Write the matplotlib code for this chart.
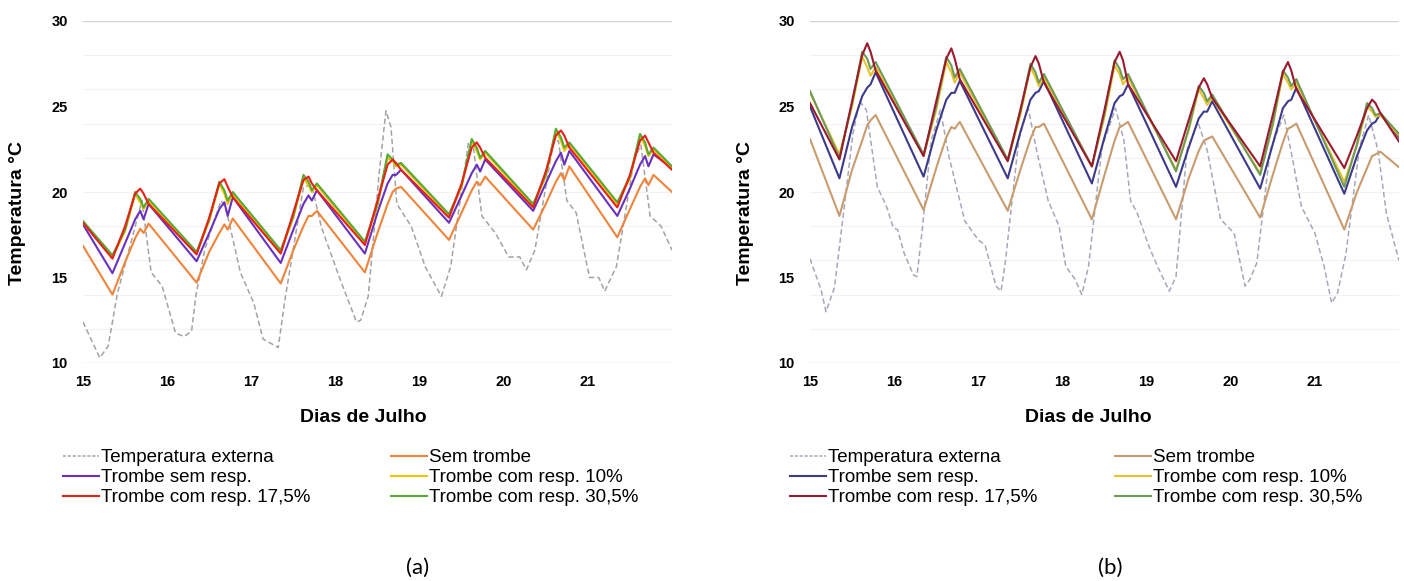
"""Indoor temperature with/without Trombe wall, 15-21 July (two scenarios).

Writes out.png
"""
import matplotlib
matplotlib.use("Agg")
import matplotlib.pyplot as plt
from matplotlib.lines import Line2D

plt.rcParams.update({
    "font.family": ["Liberation Sans", "DejaVu Sans"],
    "axes.spines.top": False,
    "axes.spines.right": False,
    "axes.spines.left": False,
    "axes.spines.bottom": False,
})

W, H = 1404, 581

# ------------------------------------------------------------
# data
# ------------------------------------------------------------
DAYS = [15, 16, 17, 18, 19, 20, 21]
# sample phases within each day: min, mid-rise, early peak, late peak, dip, shoulder
PHASES = [0.35, 0.50, 0.62, 0.68, 0.72, 0.78]
t_in = [15.0] + [d + p for d in DAYS for p in PHASES] + [22.0]

# --- panel (a)
sem_trombe_a = [16.85,
                14.0, 15.9, 17.3, 17.85, 17.6, 18.15,
                14.7, 16.5, 17.6, 18.1, 17.8, 18.45,
                14.65, 16.6, 18.0, 18.6, 18.6, 18.9,
                15.3, 17.6, 19.3, 20.0, 20.2, 20.3,
                17.2, 18.8, 20.1, 20.6, 20.4, 20.9,
                17.8, 19.3, 20.6, 21.1, 20.7, 21.5,
                17.35, 19.0, 20.3, 20.8, 20.4, 21.0,
                20.0]
sem_resp_a = [18.1,
              15.25, 17.0, 18.4, 18.9, 18.4, 19.3,
              15.95, 17.6, 19.0, 19.4, 18.6, 19.7,
              15.85, 17.8, 19.3, 19.8, 19.5, 20.1,
              16.4, 18.8, 20.5, 21.0, 21.0, 21.3,
              18.2, 19.8, 21.1, 21.6, 21.2, 21.9,
              18.9, 20.5, 21.8, 22.3, 21.6, 22.4,
              18.6, 20.2, 21.6, 22.1, 21.5, 22.2,
              21.4]
resp10_a = [18.2,
            16.2, 17.7, 19.9, 19.4, 19.0, 19.5,
            16.4, 18.3, 20.5, 19.9, 19.3, 19.9,
            16.5, 18.5, 20.8, 20.4, 20.0, 20.4,
            17.0, 19.2, 22.0, 21.8, 21.5, 21.6,
            18.6, 20.3, 23.0, 22.4, 21.9, 22.3,
            19.2, 20.9, 23.6, 23.0, 22.4, 22.8,
            19.3, 20.8, 23.3, 22.7, 22.1, 22.5,
            21.4]
resp175_a = [18.2,
             16.1, 18.0, 19.9, 20.2, 19.9, 19.3,
             16.35, 18.5, 20.5, 20.75, 20.3, 19.7,
             16.4, 18.8, 20.7, 20.9, 20.5, 20.1,
             16.9, 19.5, 21.6, 21.9, 21.7, 21.3,
             18.5, 20.5, 22.6, 22.9, 22.6, 22.0,
             19.1, 21.2, 23.3, 23.6, 23.3, 22.6,
             19.1, 21.0, 23.0, 23.3, 22.9, 22.3,
             21.3]
resp305_a = [18.3,
             16.3, 17.8, 20.0, 19.6, 19.1, 19.6,
             16.5, 18.4, 20.6, 20.1, 19.5, 20.0,
             16.6, 18.6, 21.0, 20.6, 20.1, 20.5,
             17.1, 19.3, 22.2, 21.9, 21.6, 21.7,
             18.7, 20.4, 23.1, 22.6, 22.0, 22.4,
             19.3, 21.0, 23.7, 23.2, 22.6, 22.9,
             19.4, 20.9, 23.4, 22.9, 22.2, 22.6,
             21.5]
t_ext_a = [15.0, 15.2, 15.3, 15.41, 15.6, 15.7, 15.81, 15.94,
           16.1, 16.2, 16.29, 16.34, 16.45, 16.64, 16.7, 16.87,
           17.03, 17.14, 17.25, 17.32, 17.4, 17.62, 17.72, 17.83,
           18.04, 18.25, 18.3, 18.39, 18.52, 18.6, 18.66, 18.73, 18.9,
           19.07, 19.26, 19.37, 19.58, 19.63, 19.74, 19.9,
           20.06, 20.19, 20.27, 20.37, 20.59, 20.65, 20.75, 20.86,
           21.02, 21.13, 21.2, 21.34, 21.55, 21.63, 21.74, 21.87, 22.0]
externa_a = [12.4, 10.3, 11.0, 14.1, 17.6, 19.5, 15.3, 14.5,
             11.75, 11.55, 11.85, 13.9, 16.7, 19.5, 19.0, 15.3,
             13.5, 11.4, 11.1, 10.9, 13.7, 20.3, 20.4, 18.0,
             15.1, 12.4, 12.5, 13.9, 21.1, 24.75, 23.8, 19.3, 18.0,
             15.6, 13.9, 15.65, 22.85, 23.0, 18.6, 17.6,
             16.2, 16.2, 15.45, 16.6, 22.85, 23.0, 19.5, 18.8,
             15.0, 15.0, 14.2, 15.65, 21.9, 22.75, 18.6, 18.0, 16.6]

# --- panel (b)
sem_trombe_b = [23.1,
                18.6, 21.3, 23.0, 23.9, 24.2, 24.5,
                18.95, 21.4, 23.2, 23.8, 23.7, 24.1,
                18.9, 21.3, 23.1, 23.8, 23.8, 24.0,
                18.4, 21.0, 23.0, 23.8, 23.9, 24.1,
                18.4, 20.8, 22.4, 23.0, 23.1, 23.25,
                18.5, 21.0, 22.9, 23.7, 23.8, 24.0,
                17.8, 20.0, 21.4, 22.1, 22.2, 22.35,
                21.45]
sem_resp_b = [25.0,
              20.8, 23.8, 25.6, 26.1, 26.3, 27.0,
              20.9, 23.6, 25.4, 25.8, 25.8, 26.5,
              20.8, 23.5, 25.4, 25.8, 25.9, 26.5,
              20.5, 23.2, 25.2, 25.6, 25.7, 26.3,
              20.3, 22.6, 24.3, 24.7, 24.7, 25.3,
              20.2, 22.8, 24.9, 25.3, 25.4, 26.1,
              19.9, 22.1, 23.6, 24.0, 24.1, 24.6,
              23.2]
resp10_b = [25.8,
            22.2, 25.0, 27.9, 27.3, 26.8, 27.3,
            22.1, 24.8, 27.6, 27.0, 26.4, 27.0,
            21.8, 24.5, 27.3, 26.7, 26.2, 26.7,
            21.5, 24.4, 27.4, 26.9, 26.3, 26.7,
            21.3, 23.6, 26.0, 25.5, 25.1, 25.5,
            21.1, 23.9, 26.9, 26.4, 26.0, 26.4,
            20.6, 22.7, 25.0, 24.7, 24.4, 24.5,
            23.3]
resp175_b = [25.2,
             21.9, 25.3, 28.0, 28.7, 28.2, 27.1,
             22.1, 25.3, 27.8, 28.4, 27.8, 26.6,
             21.8, 24.8, 27.3, 27.95, 27.5, 26.4,
             21.5, 24.8, 27.6, 28.2, 27.7, 26.3,
             21.8, 24.2, 26.1, 26.65, 26.3, 25.5,
             21.5, 24.5, 27.0, 27.6, 27.1, 26.0,
             21.4, 23.3, 24.9, 25.4, 25.2, 24.6,
             22.95]
resp305_b = [25.9,
             22.0, 25.2, 28.2, 27.8, 27.2, 27.6,
             22.2, 25.0, 27.9, 27.4, 26.7, 27.2,
             21.9, 24.7, 27.5, 27.0, 26.4, 26.9,
             21.5, 24.6, 27.7, 27.2, 26.6, 26.9,
             21.2, 23.7, 26.2, 25.8, 25.3, 25.7,
             21.0, 24.0, 27.1, 26.7, 26.2, 26.6,
             20.3, 22.8, 25.2, 24.9, 24.5, 24.6,
             23.4]
t_ext_b = [15.0, 15.13, 15.19, 15.29, 15.37, 15.51, 15.59, 15.67, 15.8,
           15.91, 15.99, 16.04, 16.12, 16.23, 16.27, 16.33, 16.44, 16.55,
           16.65, 16.84, 17.0, 17.08, 17.21, 17.27, 17.32, 17.48, 17.59,
           17.69, 17.83, 17.96, 18.04, 18.15, 18.23, 18.31, 18.47, 18.63,
           18.73, 18.81, 18.89, 19.03, 19.13, 19.27, 19.35, 19.48, 19.61,
           19.72, 19.88, 20.04, 20.09, 20.17, 20.23, 20.31, 20.47, 20.63,
           20.73, 20.84, 21.0, 21.11, 21.2, 21.27, 21.37, 21.53, 21.64,
           21.75, 21.85, 22.0]
externa_b = [16.1, 14.3, 13.0, 14.4, 17.6, 23.4, 25.3, 24.8, 20.3,
             19.15, 17.9, 17.8, 16.4, 15.15, 15.05, 17.6, 23.0, 24.8,
             22.1, 18.3, 17.2, 16.9, 14.5, 14.2, 15.85, 23.0, 25.0,
             22.5, 19.5, 18.0, 15.65, 14.9, 14.0, 15.65, 22.6, 24.9,
             23.05, 19.5, 18.75, 16.8, 15.65, 14.2, 15.05, 22.45, 24.1,
             22.45, 18.4, 17.6, 16.4, 14.5, 14.9, 15.85, 22.45, 24.5,
             22.05, 19.15, 17.6, 15.65, 13.5, 14.1, 16.4, 22.6, 24.5,
             22.45, 18.75, 16.0]

LABELS = ["Temperatura externa", "Sem trombe", "Trombe sem resp.",
          "Trombe com resp. 10%", "Trombe com resp. 17,5%",
          "Trombe com resp. 30,5%"]
COLORS_A = ["#a3a3a3", "#f0843a", "#6a30c0", "#f2c200", "#e82018", "#58a83a"]
COLORS_B = ["#a4a8ba", "#c99c70", "#3c3a8a", "#e8c228", "#9a1a30", "#6e9a58"]


def draw_panel(ax, ext, series, colors):
    t_ext, externa = ext
    ax.plot(t_ext, externa, color=colors[0], lw=1.1, ls=(0, (3.5, 2)), zorder=2)
    # series order: sem trombe, sem resp, 10%, 17,5%, 30,5% -- red kept on top
    for vals, c, z in zip(series, colors[1:], [3, 4, 5, 7, 6]):
        ax.plot(t_in, vals, color=c, lw=1.5, zorder=z, solid_joinstyle="round")
    ax.set_xlim(15, 22)
    ax.set_ylim(10, 30)
    for y in range(10, 31, 2):
        strong = y in (10, 30)
        ax.axhline(y, color="#d4d4d4" if strong else "#f2f2f2",
                   lw=1.0 if strong else 0.8, zorder=0)
    ax.set_yticks([10, 15, 20, 25, 30])
    ax.set_xticks(DAYS)
    ax.tick_params(length=0, labelsize=10.5)
    ax.tick_params(axis="y", pad=11)
    ax.tick_params(axis="x", pad=9)
    for lab in ax.get_xticklabels() + ax.get_yticklabels():
        lab.set_fontweight("bold")


def add_legends(fig, colors, x1, x2, top):
    handles = []
    for i, c in enumerate(colors):
        ls = (0, (2, 1.2)) if i == 0 else "-"
        handles.append(Line2D([], [], color=c, lw=1.5 if i else 1.1, ls=ls))
    kw = dict(loc="upper left", frameon=False, borderpad=0, fontsize=13.5,
              handlelength=1.9, handletextpad=0.1, labelspacing=0.15)
    fig.legend([handles[i] for i in (0, 2, 4)], [LABELS[i] for i in (0, 2, 4)],
               bbox_to_anchor=(x1 / W, 1 - top / H), **kw)
    fig.legend([handles[i] for i in (1, 3, 5)], [LABELS[i] for i in (1, 3, 5)],
               bbox_to_anchor=(x2 / W, 1 - top / H), **kw)


def main():
    fig = plt.figure(figsize=(W / 100, H / 100), dpi=100)
    bottom, height = 1 - 363 / H, (363 - 21) / H
    ax_a = fig.add_axes([83 / W, bottom, (672 - 83) / W, height])
    ax_b = fig.add_axes([810 / W, bottom, (1399 - 810) / W, height])

    draw_panel(ax_a, (t_ext_a, externa_a),
               [sem_trombe_a, sem_resp_a, resp10_a, resp175_a, resp305_a],
               COLORS_A)
    draw_panel(ax_b, (t_ext_b, externa_b),
               [sem_trombe_b, sem_resp_b, resp10_b, resp175_b, resp305_b],
               COLORS_B)

    for xc, xl in ((18, 363), (745, 1088)):
        fig.text(xc / W, 1 - 213 / H, "Temperatura °C", rotation=90,
                 ha="center", va="center", fontsize=14, fontweight="bold")
        fig.text(xl / W, 1 - 417 / H, "Dias de Julho", ha="center",
                 va="center", fontsize=14, fontweight="bold")

    add_legends(fig, COLORS_A, 54, 382, 440)
    add_legends(fig, COLORS_B, 781, 1106, 440)

    fig.text(418 / W, 1 - 568 / H, "(a)", ha="center", va="center",
             fontsize=16, family=["Lato", "DejaVu Sans"])
    fig.text(1110 / W, 1 - 568 / H, "(b)", ha="center", va="center",
             fontsize=16, family=["Lato", "DejaVu Sans"])

    fig.savefig("out.png", dpi=100, facecolor="white")


if __name__ == "__main__":
    main()
